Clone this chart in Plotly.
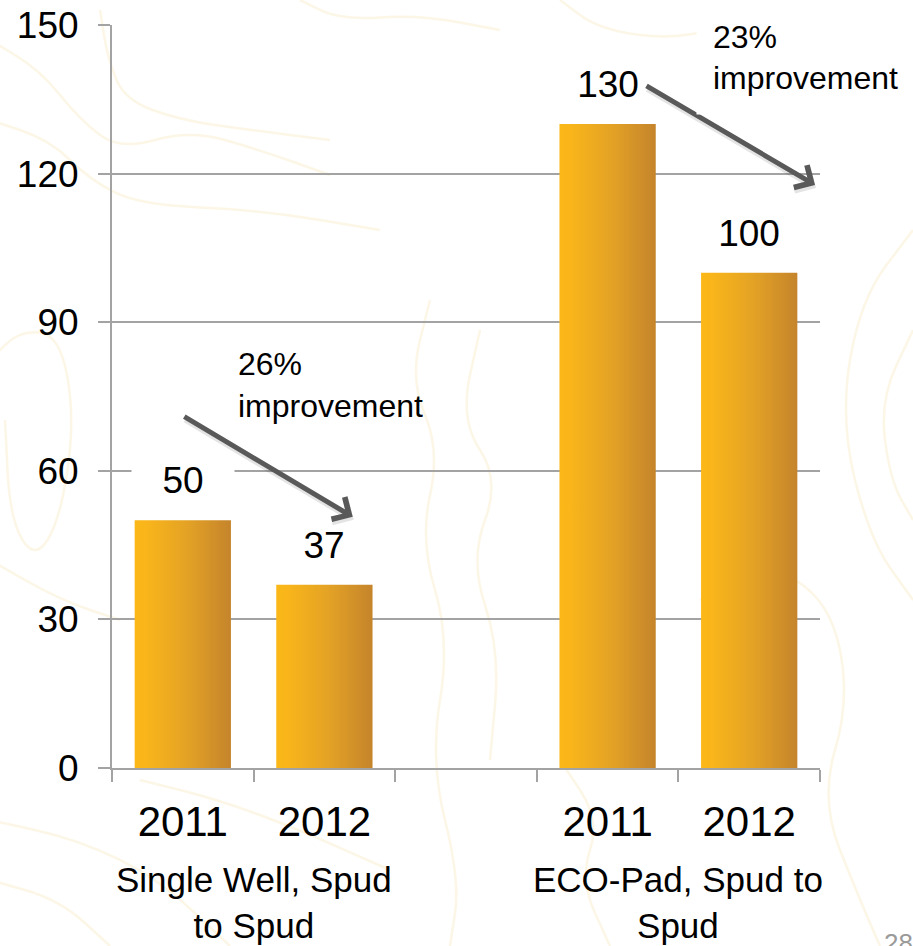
import plotly.graph_objects as go

# Spud-to-spud days, by well type and year
years = ["2011", "2012", "2011", "2012"]
positions = [0, 1, 3, 4]          # slot index on the category axis (slot 2 is the gap)
days = [50, 37, 130, 100]
group_labels = ["Single Well, Spud<br>to Spud", "ECO-Pad, Spud to<br>Spud"]
group_centers = [0.5, 3.5]
improvements = ["26%<br>improvement", "23%<br>improvement"]
y_ticks = [0, 30, 60, 90, 120, 150]
n_slots = 5

FONT = "Liberation Sans, Arial, sans-serif"
GRID = "#a3a3a3"
BAR_SCALE = [[0.0, "#fbb817"], [0.12, "#f9b51a"], [0.55, "#e3a225"], [1.0, "#c5842b"]]
BAR_W = 0.68

W, H = 913, 946
M_L, M_R, M_T, M_B = 112, 93, 25, 178
PW, PH = W - M_L - M_R, H - M_T - M_B


def px_path(points):
    """Smooth SVG path (paper coords) through figure-pixel points."""
    pts = [((x - M_L) / PW, (H - M_B - y) / PH) for x, y in points]
    d = f"M {pts[0][0]:.4f},{pts[0][1]:.4f}"
    for i in range(1, len(pts)):
        (x0, y0), (x1, y1) = pts[i - 1], pts[i]
        mx, my = (x0 + x1) / 2, (y0 + y1) / 2
        if i == 1:
            d += f" L {mx:.4f},{my:.4f}"
        else:
            d += f" Q {x0:.4f},{y0:.4f} {mx:.4f},{my:.4f}"
    d += f" L {pts[-1][0]:.4f},{pts[-1][1]:.4f}"
    return d


# faint contour-map backdrop
contours = [
    [(-10, 40), (40, 70), (80, 120), (120, 150), (190, 130), (260, 150), (330, 175)],
    [(-10, 120), (50, 140), (90, 180), (140, 205), (260, 210), (380, 230)],
    [(100, 10), (108, 60), (125, 100), (180, 120), (250, 130), (330, 140)],
    [(-10, 360), (20, 330), (60, 335), (75, 420), (60, 520), (35, 560), (10, 520), (5, 420)],
    [(-10, 560), (60, 600), (120, 620)],
    [(-10, 820), (80, 840), (160, 880), (230, 946)],
    [(-10, 880), (60, 900), (110, 946)],
    [(140, 780), (220, 800), (300, 830), (390, 870)],
    [(430, 300), (410, 380), (440, 450), (420, 540), (450, 640), (430, 760), (460, 880), (450, 946)],
    [(480, 330), (460, 420), (500, 480), (470, 560), (500, 650), (490, 760)],
    [(300, 0), (340, 20), (420, 15), (500, 30)],
    [(560, 0), (600, 30), (680, 40), (760, 15)],
    [(913, 230), (860, 300), (840, 420), (870, 540), (913, 600)],
    [(913, 330), (880, 400), (890, 480), (913, 520)],
    [(700, 600), (760, 560), (830, 600), (850, 700), (820, 800), (860, 900), (880, 946)],
    [(560, 760), (600, 820), (580, 880), (610, 946)],
]
shapes = [
    dict(type="path", path=px_path(c), xref="paper", yref="paper",
         line=dict(color="rgba(242,212,140,0.22)", width=2.5), layer="below")
    for c in contours
]

fig = go.Figure()

# bars as gradient-filled rectangles
for x, v in zip(positions, days):
    x0, x1 = x - BAR_W / 2, x + BAR_W / 2
    fig.add_trace(go.Scatter(
        x=[x0, x1, x1, x0, x0], y=[0, 0, v, v, 0],
        fill="toself", mode="lines", line=dict(width=0),
        fillgradient=dict(type="horizontal", colorscale=BAR_SCALE),
        hoverinfo="skip", showlegend=False,
    ))

annotations = []

# value labels on white boxes above each bar
for x, v in zip(positions, days):
    annotations.append(dict(
        x=x, y=v, xref="x", yref="y", text=str(v), showarrow=False,
        yanchor="bottom", yshift=3, width=100, height=70,
        bgcolor="white", font=dict(family=FONT, size=37, color="black"),
    ))

# group captions under the year labels
for cx, lab in zip(group_centers, group_labels):
    annotations.append(dict(
        x=cx, y=-0.181, xref="x", yref="paper", text=lab,
        showarrow=False, yanchor="middle",
        font=dict(family=FONT, size=35, color="black"),
    ))

# improvement arrows (soft shadow first, then arrow)
arrows = [((0.0, 71.1), (1.20, 50.7)), ((3.264, 137.9), (4.465, 117.7))]
for (tx, ty), (hx, hy) in arrows:
    annotations.append(dict(
        x=hx, y=hy, ax=tx, ay=ty, xref="x", yref="y", axref="x", ayref="y",
        xshift=1, yshift=-3, text="", showarrow=True, arrowhead=4,
        arrowwidth=6, arrowsize=0.85, arrowcolor="rgba(0,0,0,0.10)", standoff=0,
    ))
    annotations.append(dict(
        x=hx, y=hy, ax=tx, ay=ty, xref="x", yref="y", axref="x", ayref="y",
        text="", showarrow=True, arrowhead=4, arrowwidth=5, arrowsize=1,
        arrowcolor="#595959", standoff=0,
    ))

# improvement captions
annotations.append(dict(
    x=0.376, y=77.3, xref="x", yref="y", text=improvements[0], showarrow=False,
    xanchor="left", yanchor="middle", align="left",
    font=dict(family=FONT, size=32, color="black"),
))
annotations.append(dict(
    x=3.624, y=1.034, xref="x", yref="paper", text=improvements[1], showarrow=False,
    xanchor="left", yanchor="top", align="left", valign="middle",
    width=200, height=81, borderpad=16, bgcolor="white",
    font=dict(family=FONT, size=32, color="black"),
))

# slide number
annotations.append(dict(
    x=1.088, y=-0.212, xref="paper", yref="paper", text="28", showarrow=False,
    xanchor="left", yanchor="top", font=dict(family=FONT, size=26, color="#9a9a9a"),
))

fig.update_layout(
    width=W, height=H, autosize=False,
    margin=dict(l=M_L, r=M_R, t=M_T, b=M_B, pad=0),
    paper_bgcolor="white", plot_bgcolor="rgba(0,0,0,0)",
    showlegend=False,
    shapes=shapes,
    annotations=annotations,
    font=dict(family=FONT, color="black"),
)

fig.update_xaxes(
    range=[-0.5, n_slots - 0.5], tickmode="array", tickvals=positions, ticktext=years,
    ticks="", showgrid=False, zeroline=False, automargin=False,
    showline=True, linecolor=GRID, linewidth=2,
    tickfont=dict(family=FONT, size=42, color="black"), ticklabelstandoff=16,
    minor=dict(tickmode="array", tickvals=[i - 0.5 for i in range(n_slots + 1)],
               ticks="outside", ticklen=12, tickwidth=2, tickcolor=GRID, showgrid=False),
)

fig.update_yaxes(
    range=[0, 150], tickmode="array", tickvals=y_ticks,
    showgrid=True, gridcolor=GRID, gridwidth=1.5, zeroline=False, automargin=False,
    showline=True, linecolor=GRID, linewidth=2,
    ticks="outside", ticklen=12, tickwidth=2, tickcolor=GRID,
    tickfont=dict(family=FONT, size=37, color="black"), ticklabelstandoff=12,
)

fig.write_html("out.html")
